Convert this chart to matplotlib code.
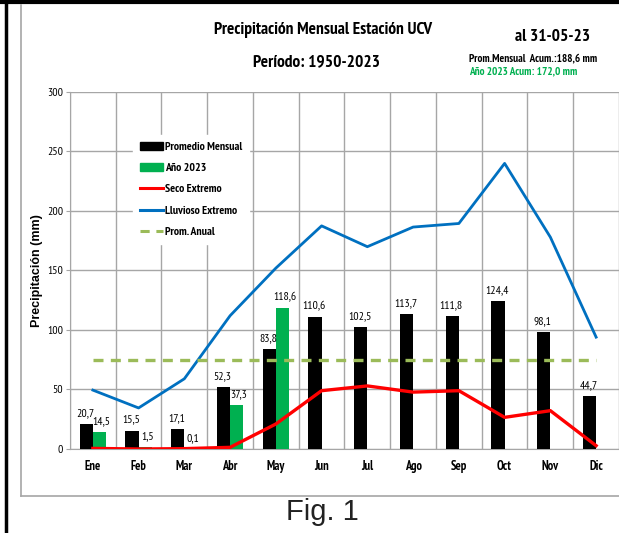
import numpy as np
import matplotlib.pyplot as plt
from matplotlib.patches import Patch
from matplotlib.lines import Line2D

plt.rcParams['font.family'] = ['PT Sans Narrow', 'Liberation Sans', 'DejaVu Sans']

# datos
meses = ['Ene', 'Feb', 'Mar', 'Abr', 'May', 'Jun', 'Jul', 'Ago', 'Sep', 'Oct', 'Nov', 'Dic']
promedio = [20.7, 15.5, 17.1, 52.3, 83.8, 110.6, 102.5, 113.7, 111.8, 124.4, 98.1, 44.7]
anio_2023 = [14.5, 1.5, 0.1, 37.3, 118.6]
seco = [0.5, 0.0, 0.3, 1.4, 21.0, 49.0, 53.0, 47.8, 49.0, 26.6, 32.2, 2.8]
lluvioso = [49.5, 34.5, 59.0, 112.0, 152.0, 187.5, 170.0, 186.5, 189.5, 240.0, 178.0, 94.0]
prom_anual = 75.0

def fmt(v):
    return ('%.1f' % v).replace('.', ',')

fig = plt.figure(figsize=(6.19, 5.33), dpi=100)
ax = fig.add_axes([0.113, 0.1576, 0.887, 0.6698])

x = np.arange(len(meses))
w = 0.29
gris = '#A6A6A6'
verde = '#00B050'

# barras
ax.bar(x - w / 2, promedio, width=w, color='black', zorder=3)
x2 = x[:len(anio_2023)]
ax.bar(x2 + w / 2, anio_2023, width=w, color=verde, zorder=3)

for xi, v in zip(x, promedio):
    ax.text(xi - w / 2 - 0.02, v + 5, fmt(v), ha='center', va='bottom', fontsize=8.5, zorder=5)
for xi, v in zip(x2, anio_2023):
    ax.text(xi + w / 2 + 0.05, v + 5, fmt(v), ha='center', va='bottom', fontsize=8.5, zorder=5)

# lineas
ax.plot(x, seco, color='#FF0000', lw=2.4, zorder=4)
ax.plot(x, lluvioso, color='#0070C0', lw=2.0, zorder=4)
ax.plot([x[0], x[-1]], [prom_anual, prom_anual], color='#9BBB59', lw=2.4,
        ls=(0, (3, 2.2)), zorder=4)

ax.set_xlim(-0.5, 11.5)
ax.set_ylim(0, 300)
ax.set_yticks(np.arange(0, 301, 50))
ax.set_xticks(x)
ax.set_xticklabels(meses, fontsize=9, fontweight='bold')
ax.set_xticks(np.arange(-0.5, 12, 1), minor=True)
ax.tick_params(axis='x', which='both', length=0, pad=8)
ax.tick_params(axis='y', length=3, color=gris, labelsize=8.5, pad=2)
ax.grid(axis='y', which='major', color=gris, lw=1, zorder=0)
ax.grid(axis='x', which='minor', color=gris, lw=1, zorder=0)
for s in ax.spines.values():
    s.set_color(gris)
ax.spines['top'].set_visible(False)
ax.spines['right'].set_visible(False)

ax.set_ylabel('Precipitación (mm)', fontsize=9, fontweight='bold',
              family=['Liberation Sans', 'DejaVu Sans'], labelpad=3)

# leyenda
handles = [Patch(color='black'), Patch(color=verde),
           Line2D([], [], color='#FF0000', lw=2.2),
           Line2D([], [], color='#0070C0', lw=2.2),
           Line2D([], [], color='#9BBB59', lw=2.2, ls=(0, (3, 2.2)))]
etiquetas = ['Promedio Mensual', 'Año 2023', 'Seco Extremo', 'Lluvioso Extremo', 'Prom. Anual']
leg = ax.legend(handles, etiquetas, loc='upper left', bbox_to_anchor=(0.115, 0.88),
                prop={'weight': 'bold', 'size': 8.5}, frameon=True,
                fancybox=False, edgecolor='white', framealpha=1,
                handlelength=1.9, handleheight=0.6, handletextpad=0.2,
                labelspacing=0.95, borderpad=0.6, borderaxespad=0)
leg.set_zorder(6)

# titulos
fig.text(0.522, 0.943, 'Precipitación Mensual Estación UCV', ha='center', va='center',
         fontsize=12.5, fontweight='bold')
fig.text(0.511, 0.883, 'Período: 1950-2023', ha='center', va='center',
         fontsize=12.5, fontweight='bold')
fig.text(0.892, 0.930, 'al 31-05-23', ha='center', va='center', fontsize=12.5, fontweight='bold')
fig.text(0.758, 0.891, 'Prom.Mensual  Acum.:188,6 mm', ha='left', va='center',
         fontsize=8, fontweight='bold')
fig.text(0.758, 0.866, 'Año 2023 Acum: 172,0 mm', ha='left', va='center',
         fontsize=8, fontweight='bold', color=verde)

# marco
fig.add_artist(Line2D([0.009, 0.009], [0, 1], color='black', lw=2.5, transform=fig.transFigure))
fig.add_artist(Line2D([0, 1], [0.997, 0.997], color='black', lw=3, transform=fig.transFigure))
fig.add_artist(Line2D([0.034, 0.034], [0.070, 0.99], color=gris, lw=1.2, transform=fig.transFigure))
fig.add_artist(Line2D([0.034, 1], [0.070, 0.070], color=gris, lw=1.2, transform=fig.transFigure))

fig.text(0.521, 0.0244, 'Fig. 1', ha='center', va='baseline', fontsize=21,
         family=['Liberation Sans', 'DejaVu Sans'], color='#222222')

fig.savefig('out.png', dpi=100)
